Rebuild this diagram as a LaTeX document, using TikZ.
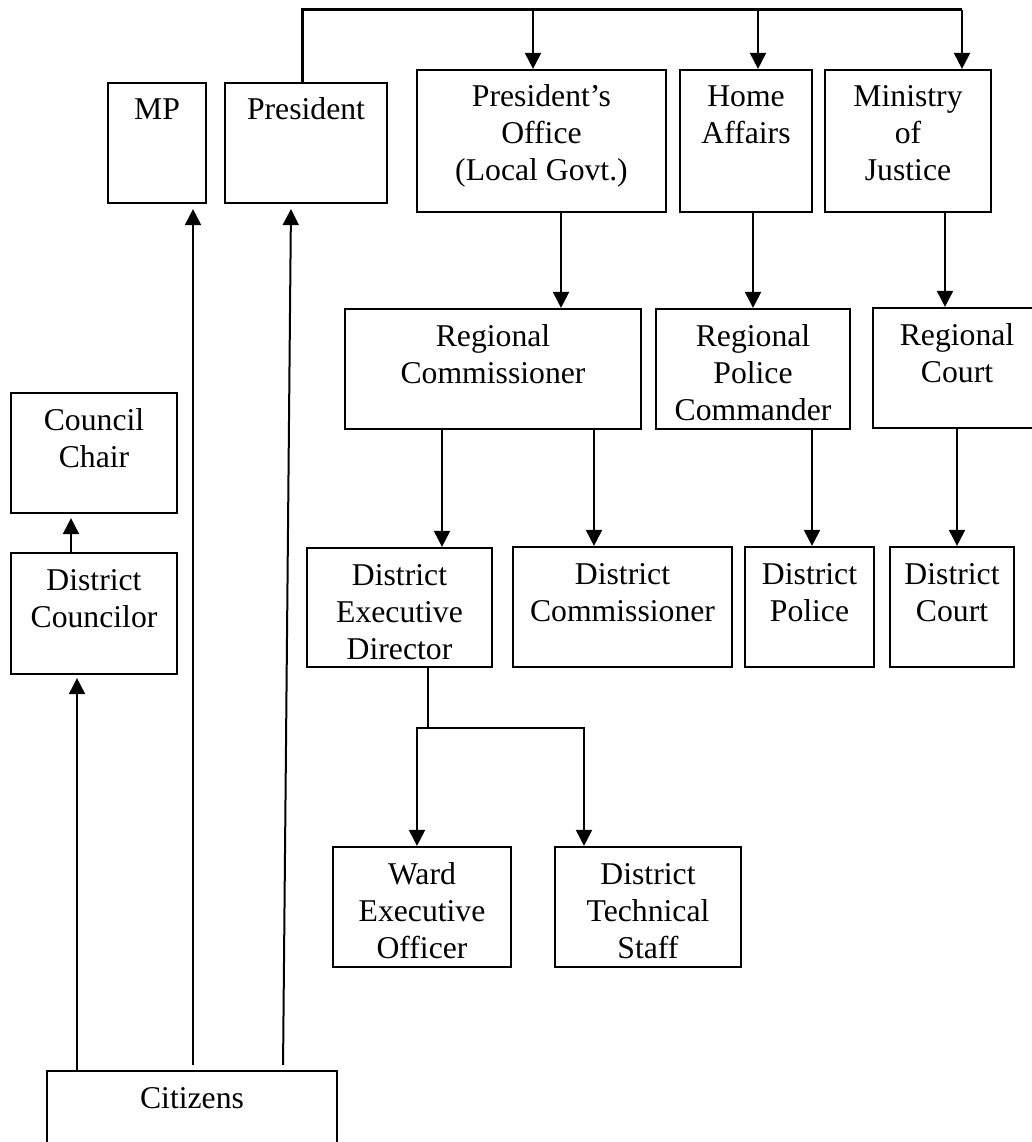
\documentclass[tikz,border=0pt]{standalone}
\usepackage{fontspec}
\setmainfont{Liberation Serif}
\usetikzlibrary{arrows.meta,calc}
\tikzset{
  box/.style={draw=black,line width=2.2pt,rectangle,inner sep=0pt},
  lbl/.style={font=\fontsize{31.7}{37}\selectfont,align=center,anchor=base,inner sep=0pt},
  conn/.style={line width=2pt},
  arr/.style={line width=2pt,-{Triangle[length=16pt,width=16pt]}},
  busline/.style={line width=3pt,line join=miter}
}
% #1 name, #2-#5 x1 y1 x2 y2, #6 number of lines, #7 text
\newcommand\mkbox[7]{%
  \pgfmathsetmacro\mkbw{#4-#2}\pgfmathsetmacro\mkbh{#5-#3}%
  \pgfmathsetmacro\mkcx{(#2+#4)/2}\pgfmathsetmacro\mkcy{(#3+#5)/2}%
  \pgfmathsetmacro\mkty{#3+37+(#6-1)*37}%
  \node[box,minimum width=\mkbw pt,minimum height=\mkbh pt] (#1) at (\mkcx,\mkcy) {};
  \node[lbl] (#1t) at (\mkcx,\mkty) {#7};}
\begin{document}
\begin{tikzpicture}[x=1pt,y=-1pt]
\useasboundingbox[fill=white] (0,0) rectangle (1032,1142);
\clip (0,0) rectangle (1032,1142);
% boxes
\mkbox{mp}{108}{83}{206}{203}{1}{MP}
\mkbox{pres}{225}{83}{387}{203}{1}{President}
\mkbox{po}{417}{70}{666}{212}{3}{President’s\\Office\\(Local Govt.)}
\mkbox{home}{680}{70}{812}{212}{2}{Home\\Affairs}
\mkbox{moj}{825}{70}{991}{212}{3}{Ministry\\of\\Justice}
\mkbox{rc}{345}{309}{641}{429}{2}{Regional\\Commissioner}
\mkbox{rpc}{656}{309}{850}{429}{3}{Regional\\Police\\Commander}
\mkbox{rcourt}{873}{308}{1041}{428}{2}{Regional\\Court}
\mkbox{cch}{11}{393}{177}{513}{2}{Council\\Chair}
\mkbox{dcl}{11}{553}{177}{674}{2}{District\\Councilor}
\mkbox{ded}{307}{548}{492}{667}{3}{District\\Executive\\Director}
\mkbox{dc}{513}{547}{732}{667}{2}{District\\Commissioner}
\mkbox{dp}{745}{547}{874}{667}{2}{District\\Police}
\mkbox{dcourt}{890}{547}{1014}{667}{2}{District\\Court}
\mkbox{weo}{333}{847}{511}{967}{3}{Ward\\Executive\\Officer}
\mkbox{dts}{555}{847}{741}{967}{3}{District\\Technical\\Staff}
\mkbox{cit}{47}{1071}{337}{1180}{1}{Citizens}
% top bus
\coordinate (busR) at (962,10);
\draw[busline] ([xshift=-4pt]pres.north) |- (busR);
\draw[arr] (busR) -- (busR |- moj.north);
\draw[arr] ([xshift=-8.5pt]po.north |- busR) -- ([xshift=-8.5pt]po.north);
\draw[arr] ([xshift=12pt]home.north |- busR) -- ([xshift=12pt]home.north);
% ministries to regional
\draw[arr] ([xshift=19.5pt]po.south) -- ([xshift=19.5pt]po.south |- rc.north);
\draw[arr] ([xshift=7pt]home.south) -- ([xshift=7pt]home.south |- rpc.north);
\draw[arr] ([xshift=37pt]moj.south) -- ([xshift=37pt]moj.south |- rcourt.north);
% regional to district
\draw[arr] ([xshift=-51pt]rc.south) -- ([xshift=-51pt]rc.south |- ded.north);
\draw[arr] ([xshift=101pt]rc.south) -- ([xshift=101pt]rc.south |- dc.north);
\draw[arr] ([xshift=59pt]rpc.south) -- ([xshift=59pt]rpc.south |- dp.north);
\draw[arr] (rcourt.south) -- (rcourt.south |- dcourt.north);
% DED split
\coordinate (split) at (428,728);
\draw[conn] ([xshift=28.5pt]ded.south) -- (split);
\draw[arr] (split) -| ([xshift=-5pt]weo.north);
\draw[arr] (split) -| ([xshift=-64pt]dts.north);
% left side
\draw[arr,shorten >=4pt] ([xshift=-23pt]dcl.north) -- ([xshift=-23pt]dcl.north |- cch.south);
\draw[arr,shorten >=3pt] ([xshift=-115pt]cit.north) -- ([xshift=-115pt]cit.north |- dcl.south);
\draw[arr,shorten <=5pt,shorten >=5pt] ([xshift=1pt]cit.north) -- ([xshift=1pt]cit.north |- mp.south);
\draw[arr,shorten <=5pt,shorten >=5pt] ([xshift=91pt]cit.north) -- ([xshift=-15pt]pres.south);
\end{tikzpicture}
\end{document}
